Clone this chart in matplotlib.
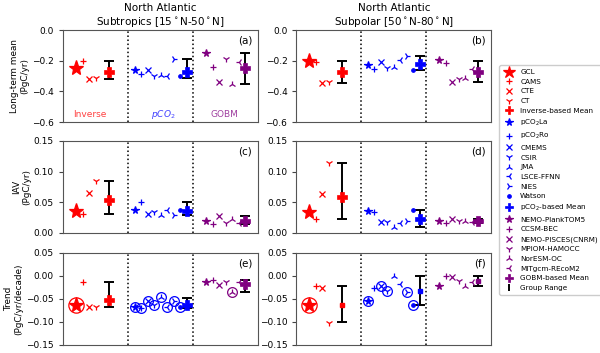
import matplotlib.pyplot as plt
from matplotlib.lines import Line2D

# model names, grouped like in the chart
inv_names = ['GCL', 'CAMS', 'CTE', 'CT']
pco2_names = ['pCO$_2$La', 'pCO$_2$Ro', 'CMEMS', 'CSIR', 'JMA', 'LSCE-FFNN', 'NIES', 'Watson']
gobm_names = ['NEMO-PlankTOM5', 'CCSM-BEC', 'NEMO-PISCES(CNRM)', 'MPIOM-HAMOCC', 'NorESM-OC', 'MITgcm-REcoM2']
mean_names = ['Inverse-based Mean', 'pCO$_2$-based Mean', 'GOBM-based Mean']

# category positions on the x axis (group 0 = inverse, 1 = pCO2, 2 = GOBM)
inv_x = [0.2, 0.3, 0.4, 0.5]
pco2_x = [1.1, 1.2, 1.3, 1.4, 1.5, 1.6, 1.7, 1.8]
gobm_x = [2.2, 2.3, 2.4, 2.5, 2.6, 2.7]
mean_x = [0.7, 1.9, 2.8]

# (a) long-term mean, subtropics
inv_a = [-0.25, -0.20, -0.32, -0.31]
pco2_a = [-0.26, -0.285, -0.26, -0.30, -0.29, -0.30, -0.19, -0.30]
gobm_a = [-0.15, -0.24, -0.34, -0.19, -0.35, -0.205]
mean_a = [-0.27, -0.275, -0.25]
lo_a = [-0.317, -0.31, -0.35]
hi_a = [-0.20, -0.19, -0.15]

# (b) long-term mean, subpolar
inv_b = [-0.20, -0.21, -0.345, -0.34]
pco2_b = [-0.226, -0.252, -0.21, -0.25, -0.24, -0.196, -0.168, -0.26]
gobm_b = [-0.196, -0.217, -0.337, -0.32, -0.31, -0.256]
mean_b = [-0.272, -0.224, -0.276]
lo_b = [-0.345, -0.26, -0.337]
hi_b = [-0.20, -0.17, -0.20]

# (c) IAV, subtropics
inv_c = [0.036, 0.031, 0.065, 0.084]
pco2_c = [0.038, 0.050, 0.031, 0.035, 0.029, 0.038, 0.029, 0.038]
gobm_c = [0.019, 0.015, 0.027, 0.016, 0.022, 0.017]
mean_c = [0.054, 0.036, 0.020]
lo_c = [0.031, 0.029, 0.0145]
hi_c = [0.084, 0.050, 0.027]

# (d) IAV, subpolar
inv_d = [0.034, 0.023, 0.064, 0.114]
pco2_d = [0.036, 0.035, 0.018, 0.018, 0.010, 0.016, 0.020, 0.038]
gobm_d = [0.019, 0.016, 0.023, 0.019, 0.020, 0.018]
mean_d = [0.059, 0.023, 0.019]
lo_d = [0.023, 0.009, 0.016]
hi_d = [0.114, 0.037, 0.023]

# (e) trend, subtropics
inv_e = [-0.064, -0.014, -0.067, -0.067]
pco2_e = [-0.067, -0.069, -0.055, -0.062, -0.046, -0.068, -0.055, -0.068]
gobm_e = [-0.013, -0.008, -0.019, -0.013, -0.035, -0.012]
mean_e = [-0.053, -0.062, -0.017]
lo_e = [-0.067, -0.069, -0.035]
hi_e = [-0.014, -0.047, -0.009]

# (f) trend, subpolar
inv_f = [-0.064, -0.022, -0.027, -0.102]
pco2_f = [-0.055, -0.027, -0.022, -0.033, 0.0, -0.018, -0.035, -0.062]
gobm_f = [-0.022, 0.0, -0.002, -0.011, -0.021, -0.013]
mean_f = [-0.062, -0.032, -0.011]
lo_f = [-0.101, -0.062, -0.022]
hi_f = [-0.022, 0.0, 0.0]

# circled (significant) trends
sig_inv_e = [1, 0, 0, 0]
sig_pco2_e = [1, 1, 1, 1, 1, 1, 1, 1]
sig_gobm_e = [0, 0, 0, 0, 1, 0]
sig_inv_f = [1, 0, 0, 0]
sig_pco2_f = [1, 0, 1, 1, 0, 0, 1, 1]
sig_gobm_f = [0, 0, 0, 0, 0, 0]

inv_mk = ['*', '+', 'x', '1']
pco2_mk = ['*', '+', 'x', '1', '2', '3', '4', '.']
gobm_mk = ['*', '+', 'x', '1', '2', '3']
colors = ['red', 'blue', 'purple']


def msize(m, big=False):
    if big:
        return 11
    if m == '*':
        return 5.5
    return 5


def draw(ax, vals, means, lo, hi, sig=None, small_mean=False):
    groups = [(inv_x, inv_mk), (pco2_x, pco2_mk), (gobm_x, gobm_mk)]
    for g, (xs, mks) in enumerate(groups):
        c = colors[g]
        for i in range(len(xs)):
            big = (g == 0 and i == 0)
            ax.plot(xs[i], vals[g][i], linestyle='none', marker=mks[i], color=c,
                    ms=msize(mks[i], big), mew=0.9, zorder=3)
            if sig is not None and sig[g][i]:
                ax.plot(xs[i], vals[g][i], linestyle='none', marker='o', mfc='none',
                        mec=c, ms=11 if big else 7, mew=0.9, zorder=3)
        ax.errorbar(mean_x[g], means[g], yerr=[[means[g] - lo[g]], [hi[g] - means[g]]],
                    fmt='none', ecolor='k', elinewidth=1.4, capsize=3.5, capthick=1.4, zorder=2)
        if small_mean:
            ax.plot(mean_x[g], means[g], 's', color=c, ms=3.5, zorder=4)
        else:
            ax.plot(mean_x[g], means[g], 'P', color=c, ms=6.5, mew=0.5, zorder=4)
    ax.axvline(1, color='k', ls=':', lw=1.1)
    ax.axvline(2, color='k', ls=':', lw=1.1)
    ax.set_xlim(0, 3)
    ax.set_xticks([])
    ax.tick_params(labelsize=6.5, length=3, color='#444444')
    for s in ax.spines.values():
        s.set_color('#555555')


fig = plt.figure(figsize=(6, 3.53), dpi=100)

lefts = [0.105, 0.494]
bottoms = [0.654, 0.340, 0.0227]
w, h = 0.325, 0.2606

panels = [
    ([inv_a, pco2_a, gobm_a], mean_a, lo_a, hi_a, None),
    ([inv_b, pco2_b, gobm_b], mean_b, lo_b, hi_b, None),
    ([inv_c, pco2_c, gobm_c], mean_c, lo_c, hi_c, None),
    ([inv_d, pco2_d, gobm_d], mean_d, lo_d, hi_d, None),
    ([inv_e, pco2_e, gobm_e], mean_e, lo_e, hi_e, [sig_inv_e, sig_pco2_e, sig_gobm_e]),
    ([inv_f, pco2_f, gobm_f], mean_f, lo_f, hi_f, [sig_inv_f, sig_pco2_f, sig_gobm_f]),
]
letters = ['(a)', '(b)', '(c)', '(d)', '(e)', '(f)']
ylims = [(-0.6, 0.0), (0.0, 0.15), (-0.15, 0.05)]
yticks = [[-0.6, -0.4, -0.2, 0.0], [0.0, 0.05, 0.10, 0.15], [-0.15, -0.10, -0.05, 0.00, 0.05]]
ylabels = ['Long-term mean\n(PgC/yr)', 'IAV\n(PgC/yr)', 'Trend\n(PgC/yr/decade)']

axes = []
for k in range(6):
    row, col = k // 2, k % 2
    ax = fig.add_axes([lefts[col], bottoms[row], w, h])
    vals, means, lo, hi, sig = panels[k]
    draw(ax, vals, means, lo, hi, sig, small_mean=(k == 5))
    ax.set_ylim(*ylims[row])
    ax.set_yticks(yticks[row])
    ax.text(0.97, 0.94, letters[k], transform=ax.transAxes, ha='right', va='top', fontsize=7.5)
    if col == 0:
        ax.set_ylabel(ylabels[row], fontsize=6.4, labelpad=2, linespacing=1.15)
    axes.append(ax)

axes[0].set_title('North Atlantic\nSubtropics [15$^\\circ$N-50$^\\circ$N]', fontsize=7.5, pad=4)
axes[1].set_title('North Atlantic\nSubpolar [50$^\\circ$N-80$^\\circ$N]', fontsize=7.5, pad=4)

axes[0].text(0.41, -0.55, 'Inverse', color='red', alpha=0.75, ha='center', va='center', fontsize=6.5)
axes[0].text(1.54, -0.55, '$pCO_2$', color='blue', alpha=0.75, ha='center', va='center', fontsize=6.5)
axes[0].text(2.48, -0.55, 'GOBM', color='purple', alpha=0.75, ha='center', va='center', fontsize=6.5)

# legend
handles = []
labels = []
for names, mks, c in [(inv_names, inv_mk, 'red'), (pco2_names, pco2_mk, 'blue'), (gobm_names, gobm_mk, 'purple')]:
    for i in range(len(names)):
        big = (c == 'red' and i == 0)
        handles.append(Line2D([], [], linestyle='none', marker=mks[i], color=c,
                              ms=9 if big else msize(mks[i]), mew=0.9))
        labels.append(names[i])
    g = colors.index(c)
    handles.append(Line2D([], [], linestyle='none', marker='P', color=c, ms=6, mew=0.5))
    labels.append(mean_names[g])
rng = axes[0].errorbar([], [], yerr=[], fmt='none', ecolor='k', elinewidth=1.4, capsize=3, capthick=1.4)
handles.append(rng)
labels.append('Group Range')

fig.legend(handles, labels, loc='upper left', bbox_to_anchor=(0.826, 0.825), fontsize=5.2,
           labelspacing=0.5, handlelength=1.6, handletextpad=0.8, borderpad=0.5, framealpha=1)

fig.savefig('out.png', dpi=100)
